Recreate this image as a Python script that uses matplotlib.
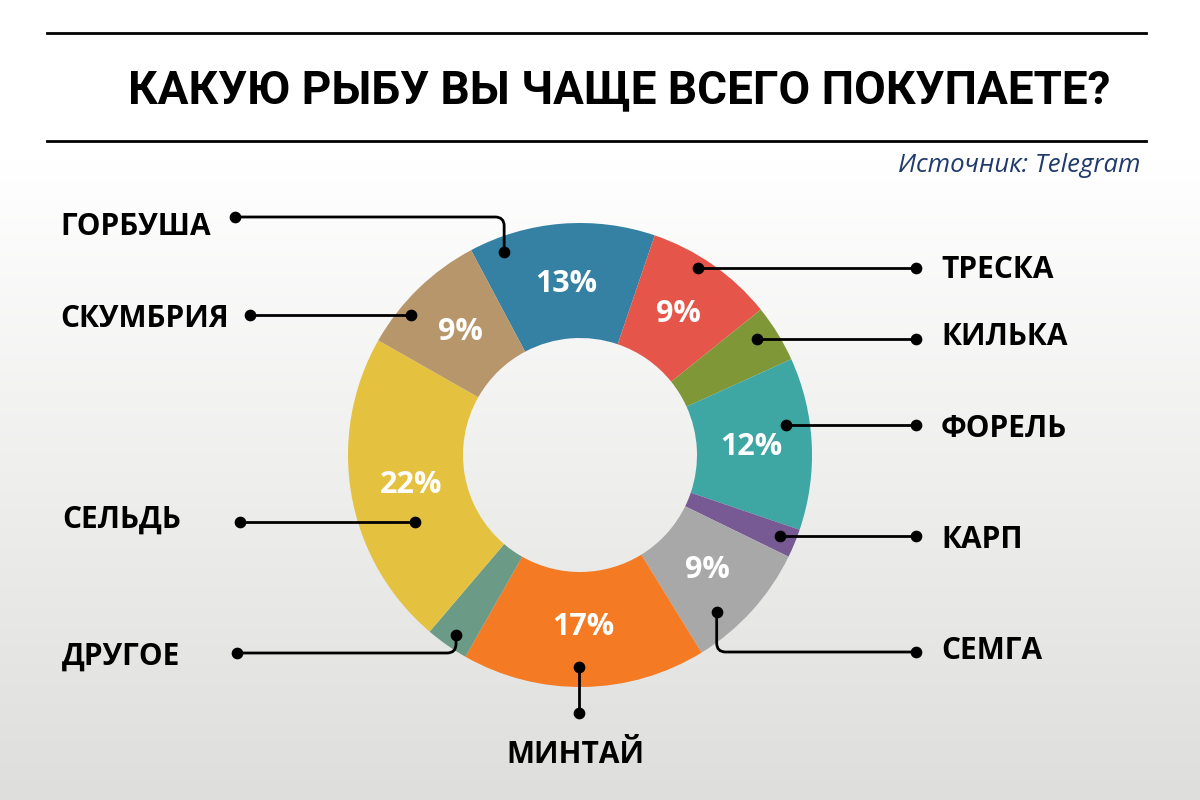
import numpy as np
import matplotlib
matplotlib.use("Agg")
import matplotlib.pyplot as plt
from matplotlib.path import Path as MPath
from matplotlib.patches import PathPatch

# Data
categories = ["ГОРБУША", "ТРЕСКА", "КИЛЬКА", "ФОРЕЛЬ", "КАРП",
              "СЕМГА", "МИНТАЙ", "ДРУГОЕ", "СЕЛЬДЬ", "СКУМБРИЯ"]
shares = [13, 9, 4, 12, 2, 9, 17, 3, 22, 9]
colours = ["#3481a3", "#e5554a", "#7f9737", "#3ea6a3", "#775a94",
           "#a8a8a8", "#f47b24", "#6b9a86", "#e5c140", "#b8966b"]

TITLE = "КАКУЮ РЫБУ ВЫ ЧАЩЕ ВСЕГО ПОКУПАЕТЕ?"
SOURCE = "Источник: Telegram"

# Layout (figure pixels, y up)
W, H = 1200, 800
CENTER = (580, 345)
R_OUT, R_IN = 232, 117
START = 118

# per label: text x, baseline y, ha, dot x, dot y (None = same as anchor),
# anchor position inside wedge (fraction of span), anchor radius fraction
label_layout = {
    "ГОРБУША":  (60, 565, "left", 235, 583, 0.16, 0.933),
    "ТРЕСКА":   (941, 522, "left", 916, None, 0.415, 0.953),
    "КИЛЬКА":   (941, 455, "left", 916, None, 0.39, 0.912),
    "ФОРЕЛЬ":   (941, 363, "left", 916, None, 0.37, 0.897),
    "КАРП":     (941, 252, "left", 916, None, 0.45, 0.93),
    "СЕМГА":    (941, 141, "left", 916, 148, 0.71, 0.898),
    "МИНТАЙ":   (575, 37, "center", None, 87, 0.52, 0.914),
    "ДРУГОЕ":   (62, 135, "left", 237, 147, 0.46, 0.942),
    "СЕЛЬДЬ":   (62, 272, "left", 240, None, 0.347, 0.767),
    "СКУМБРИЯ": (60, 473, "left", 250, None, 0.31, 0.948),
}

LABEL_FONT = ["Open Sans", "DejaVu Sans"]


def leader(ax, pts, r=9):
    verts = [pts[0]]
    codes = [MPath.MOVETO]
    for i in range(1, len(pts) - 1):
        a, p, b = (np.array(q, float) for q in (pts[i - 1], pts[i], pts[i + 1]))
        d1 = (p - a) / max(np.linalg.norm(p - a), 1e-9)
        d2 = (b - p) / max(np.linalg.norm(b - p), 1e-9)
        verts += [tuple(p - r * d1), tuple(p), tuple(p + r * d2)]
        codes += [MPath.LINETO, MPath.CURVE3, MPath.CURVE3]
    verts.append(pts[-1])
    codes.append(MPath.LINETO)
    ax.add_patch(PathPatch(MPath(verts, codes), fill=False, edgecolor="black",
                           lw=2.0, zorder=5, capstyle="round"))
    ends = np.array([pts[0], pts[-1]])
    ax.scatter(ends[:, 0], ends[:, 1], s=55, color="black", zorder=6)


fig = plt.figure(figsize=(12, 8), dpi=100)
ax = fig.add_axes([0, 0, 1, 1])

# background gradient: white at top, light grey at bottom
ys = np.arange(H)
t = np.clip((ys - 160) / (H - 160), 0, 1)[:, None]
top = np.array([1.0, 1.0, 1.0])
bottom = np.array([222, 222, 220]) / 255
grad = (top * (1 - t) + bottom * t)[:, None, :]
ax.imshow(grad, extent=(0, W, 0, H), aspect="auto", zorder=0, origin="upper")

wedges, _, pct_texts = ax.pie(
    shares, colors=colours, startangle=START, counterclock=False,
    radius=R_OUT, center=CENTER, frame=True,
    wedgeprops=dict(width=R_OUT - R_IN, linewidth=0),
    autopct=lambda p: f"{p:.0f}%" if p >= 5 else "",
    pctdistance=0.74,
    textprops=dict(color="white", fontsize=22, fontweight="bold",
                   family=LABEL_FONT))

for w, name in zip(wedges, categories):
    tx, ty, ha, dx, dy, frac, rf = label_layout[name]
    ang = np.deg2rad(w.theta2 - frac * (w.theta2 - w.theta1))
    anchor = (CENTER[0] + rf * R_OUT * np.cos(ang), CENTER[1] + rf * R_OUT * np.sin(ang))
    if dx is None:
        dx = anchor[0]
    if dy is None:
        dy = anchor[1]
    if abs(dy - anchor[1]) < 1 or abs(dx - anchor[0]) < 1:
        pts = [(dx, dy), anchor]
    else:
        pts = [(dx, dy), (anchor[0], dy), anchor]
    leader(ax, pts)
    ax.text(tx, ty, name, ha=ha, va="baseline", fontsize=21.5, fontweight="bold",
            family=LABEL_FONT, color="black", zorder=7)

# header
ax.plot([47, 1146], [767, 767], color="black", lw=2, zorder=3)
ax.plot([47, 1146], [659, 659], color="black", lw=2, zorder=3)
ax.text(128, 697, TITLE, ha="left", va="baseline", fontsize=33,
        fontweight="bold", family=["Roboto", "DejaVu Sans"], color="black")
ax.text(1140, 628, SOURCE, ha="right", va="baseline", fontsize=18.5,
        style="italic", family=["Open Sans", "DejaVu Sans"], color="#1f3a6b")

ax.set_xlim(0, W)
ax.set_ylim(0, H)
ax.set_aspect("equal")
ax.axis("off")

fig.savefig("out.png", dpi=100)
